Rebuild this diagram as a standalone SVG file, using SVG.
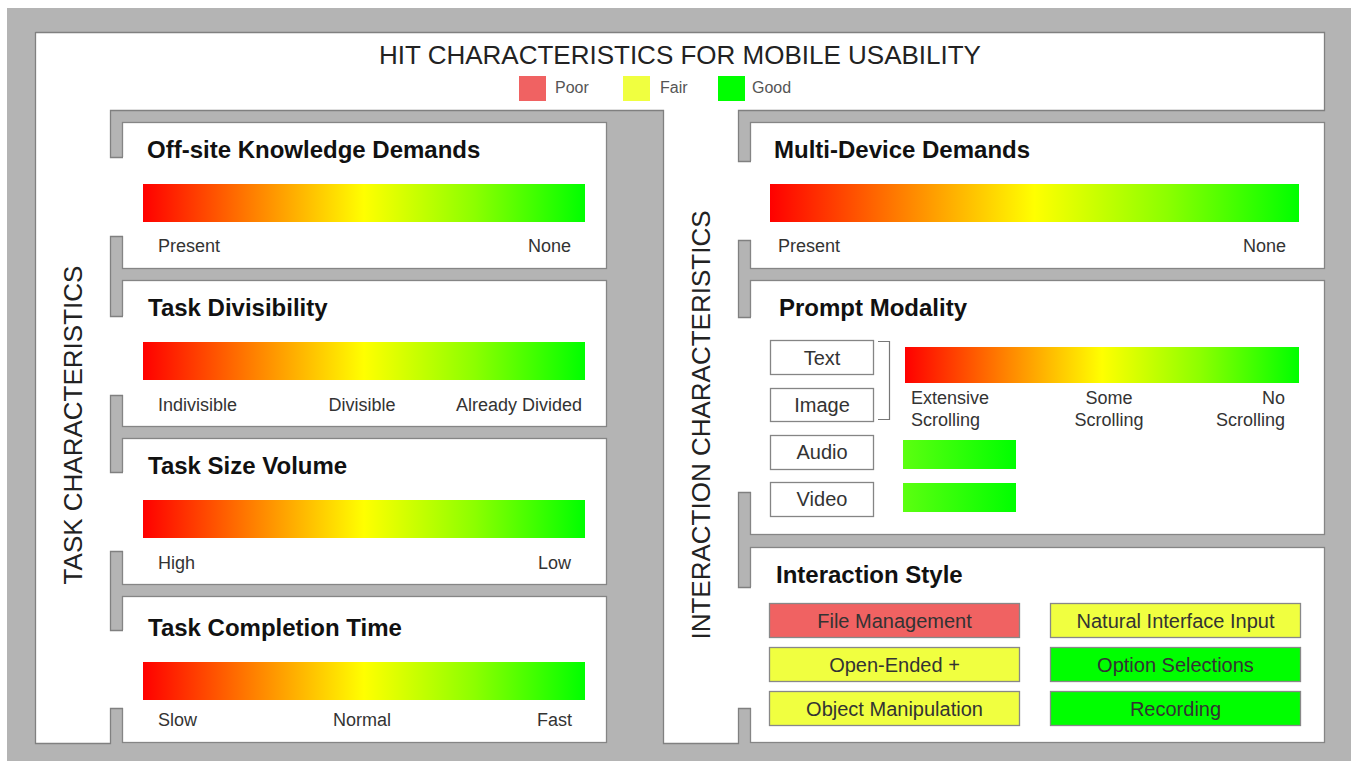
<svg xmlns="http://www.w3.org/2000/svg" width="1351" height="761" viewBox="0 0 1351 761">
<defs>
<linearGradient id="rg" x1="0" y1="0" x2="1" y2="0">
<stop offset="0" stop-color="#ff0000"/>
<stop offset="0.25" stop-color="#ff8000"/>
<stop offset="0.5" stop-color="#ffff00"/>
<stop offset="0.75" stop-color="#8cff00"/>
<stop offset="1" stop-color="#00ff00"/>
</linearGradient>
<linearGradient id="gg" x1="0" y1="0" x2="1" y2="0">
<stop offset="0" stop-color="#5cff10"/>
<stop offset="1" stop-color="#00ff00"/>
</linearGradient>
<style>
.card{fill:#fff;stroke:#858585;stroke-width:1.3}
.bar{stroke:none}
.ttl{font-family:"Liberation Sans",Arial,sans-serif;font-weight:bold;font-size:24px;fill:#111}
.lbl{font-family:"Liberation Sans",Arial,sans-serif;font-size:18px;fill:#333}
.big{font-family:"Liberation Sans",Arial,sans-serif;font-size:26px;fill:#222}
.leg{font-family:"Liberation Sans",Arial,sans-serif;font-size:16px;fill:#555}
.box{fill:#fff;stroke:#858585;stroke-width:1.3}
.btn{stroke:#888;stroke-width:1.3}
.btxt{font-family:"Liberation Sans",Arial,sans-serif;font-size:20px;fill:#333;text-anchor:middle}
.poor{fill:#f06262}
.fair{fill:#f0ff40}
.good{fill:#00ff00}
.edge{fill:none;stroke:#808080;stroke-width:1.3}
</style>
</defs>
<rect x="7" y="8" width="1344" height="753" fill="#b4b4b4"/>

<g id="left-cards">
<g id="offsite"><rect class="card" x="122.5" y="122.5" width="484" height="146"/><text class="ttl" x="147" y="158">Off-site Knowledge Demands</text><rect class="bar" x="143" y="184" width="442" height="38" fill="url(#rg)"/><text class="lbl" x="158" y="252">Present</text><text class="lbl" x="571" y="252" text-anchor="end">None</text></g>
<g id="divisibility"><rect class="card" x="122.5" y="280.5" width="484" height="146"/><text class="ttl" x="148" y="316">Task Divisibility</text><rect class="bar" x="143" y="342" width="442" height="38" fill="url(#rg)"/><text class="lbl" x="158" y="411">Indivisible</text><text class="lbl" x="362" y="411" text-anchor="middle">Divisible</text><text class="lbl" x="582" y="411" text-anchor="end">Already Divided</text></g>
<g id="sizevolume"><rect class="card" x="122.5" y="438.5" width="484" height="146"/><text class="ttl" x="148" y="474">Task Size Volume</text><rect class="bar" x="143" y="500" width="442" height="38" fill="url(#rg)"/><text class="lbl" x="158" y="569">High</text><text class="lbl" x="571" y="569" text-anchor="end">Low</text></g>
<g id="completion"><rect class="card" x="122.5" y="596.5" width="484" height="146"/><text class="ttl" x="148" y="636">Task Completion Time</text><rect class="bar" x="143" y="662" width="442" height="38" fill="url(#rg)"/><text class="lbl" x="158" y="726">Slow</text><text class="lbl" x="362" y="726" text-anchor="middle">Normal</text><text class="lbl" x="572" y="726" text-anchor="end">Fast</text></g>
</g>

<g id="right-cards">
<g id="multidevice"><rect class="card" x="750.5" y="122.5" width="574" height="146"/><text class="ttl" x="774" y="158">Multi-Device Demands</text><rect class="bar" x="770" y="184" width="529" height="38" fill="url(#rg)"/><text class="lbl" x="778" y="252">Present</text><text class="lbl" x="1286" y="252" text-anchor="end">None</text></g>
<g id="prompt"><rect class="card" x="750.5" y="280.5" width="574" height="254"/><text class="ttl" x="779" y="316">Prompt Modality</text>
<g id="m-text"><rect class="box" x="770.5" y="340.5" width="103" height="34"/><text class="btxt" x="822" y="365">Text</text></g>
<g id="m-image"><rect class="box" x="770.5" y="388.5" width="103" height="33"/><text class="btxt" x="822" y="412">Image</text></g>
<g id="m-audio"><rect class="box" x="770.5" y="435.5" width="103" height="34"/><text class="btxt" x="822" y="459">Audio</text></g>
<g id="m-video"><rect class="box" x="770.5" y="482.5" width="103" height="34"/><text class="btxt" x="822" y="506">Video</text></g>
<rect class="bar" x="905" y="347" width="394" height="36" fill="url(#rg)"/>
<text class="lbl" x="911" y="404">Extensive</text><text class="lbl" x="911" y="426">Scrolling</text>
<text class="lbl" x="1109" y="404" text-anchor="middle">Some</text><text class="lbl" x="1109" y="426" text-anchor="middle">Scrolling</text>
<text class="lbl" x="1285" y="404" text-anchor="end">No</text><text class="lbl" x="1285" y="426" text-anchor="end">Scrolling</text>
<rect class="bar" x="903" y="440" width="113" height="29" fill="url(#gg)"/>
<rect class="bar" x="903" y="483" width="113" height="29" fill="url(#gg)"/>
</g>
<g id="interaction"><rect class="card" x="750.5" y="547.5" width="574" height="195"/><text class="ttl" x="776" y="583">Interaction Style</text>
<g id="s-file"><rect class="btn poor" x="769.5" y="603.5" width="250" height="34"/><text class="btxt" x="894.5" y="628">File Management</text></g>
<g id="s-natural"><rect class="btn fair" x="1050.5" y="603.5" width="250" height="34"/><text class="btxt" x="1175.5" y="628">Natural Interface Input</text></g>
<g id="s-open"><rect class="btn fair" x="769.5" y="647.5" width="250" height="34"/><text class="btxt" x="894.5" y="672">Open-Ended +</text></g>
<g id="s-option"><rect class="btn good" x="1050.5" y="647.5" width="250" height="34"/><text class="btxt" x="1175.5" y="672">Option Selections</text></g>
<g id="s-object"><rect class="btn fair" x="769.5" y="691.5" width="250" height="34"/><text class="btxt" x="894.5" y="716">Object Manipulation</text></g>
<g id="s-record"><rect class="btn good" x="1050.5" y="691.5" width="250" height="34"/><text class="btxt" x="1175.5" y="716">Recording</text></g>
</g>
</g>

<g id="frame">
<path fill="#fff" d="M35,32 H1324 V110 H738 V161 H752 V240 H738 V317 H752 V492 H738 V587 H752 V708 H738 V743 H663 V110 H110 V157 H124 V236 H110 V316 H124 V395 H110 V472 H124 V551 H110 V630 H124 V708 H110 V743 H35 Z"/>
<path class="edge" d="M35.5,32.5 H1324.5 V110.5 H738.5 V161.5 H751 M751,240.5 H738.5 V317.5 H751 M751,492.5 H738.5 V587.5 H751 M751,708.5 H738.5 V743.5 H663.5 V110.5 H110.5 V157.5 H123 M123,236.5 H110.5 V316.5 H123 M123,395.5 H110.5 V472.5 H123 M123,551.5 H110.5 V630.5 H123 M123,708.5 H110.5 V743.5 H35.5 V32"/>
</g>

<g id="header">
<text class="big" x="680" y="64" text-anchor="middle">HIT CHARACTERISTICS FOR MOBILE USABILITY</text>
<g id="legend-poor"><rect class="poor" x="519" y="76" width="27" height="25"/><text class="leg" x="555" y="93">Poor</text></g>
<g id="legend-fair"><rect class="fair" x="623" y="76" width="27" height="25"/><text class="leg" x="660" y="93">Fair</text></g>
<g id="legend-good"><rect class="good" x="718" y="76" width="27" height="25"/><text class="leg" x="752" y="93">Good</text></g>
</g>

<g id="task-label"><text class="big" transform="translate(82,425) rotate(-90)" text-anchor="middle">TASK CHARACTERISTICS</text></g>
<g id="interaction-label"><text class="big" transform="translate(710,425) rotate(-90)" text-anchor="middle">INTERACTION CHARACTERISTICS</text></g>

<g id="connectors">
<path d="M878,341.5 H889.5 V419.5 H878" fill="none" stroke="#777" stroke-width="1.2"/>
</g>
</svg>
